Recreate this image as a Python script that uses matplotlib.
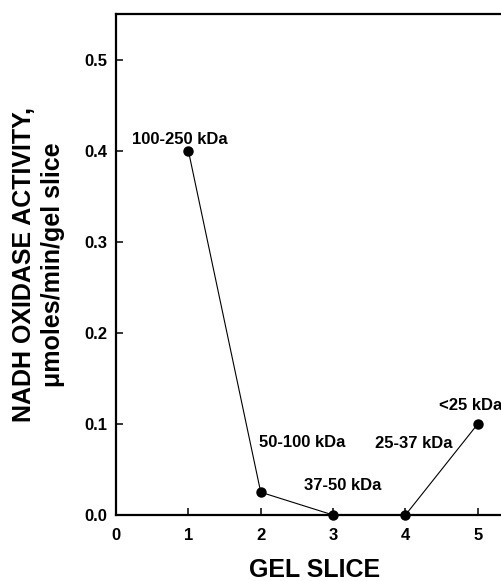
import matplotlib.pyplot as plt
import numpy as np

plt.rcParams['font.family'] = ['Liberation Sans', 'DejaVu Sans']
plt.rcParams['font.weight'] = 'bold'

# NADH oxidase activity per gel slice
gel_slice = [1, 2, 3, 4, 5]
activity = [0.40, 0.025, 0.0, 0.0, 0.10]
mw_labels = ["100-250 kDa", "50-100 kDa", "37-50 kDa", "25-37 kDa", "<25 kDa"]
# label offsets from each point, in points
label_offsets = [(-5.8, 5), (29.5, 32.4), (7.2, 18), (6, 48.2), (-5, 10)]

fig = plt.figure(figsize=(5.02, 5.81), dpi=100)
W, H = 502, 581
ax = fig.add_axes([116 / W, 66 / H, (514 - 116) / W, (515 - 14) / H])

ax.plot(gel_slice, activity, color='black', lw=0.8, marker='o', ms=6.5,
        mfc='black', mec='black', clip_on=False, zorder=3)

for x, y, lab, off in zip(gel_slice, activity, mw_labels, label_offsets):
    ax.annotate(lab, (x, y), xytext=off, textcoords='offset points',
                ha='center', va='baseline', fontsize=12, fontweight='bold',
                annotation_clip=False)

ax.set_xlim(0, 5.5)
ax.set_ylim(0, 0.55)
ax.set_xticks([0, 1, 2, 3, 4, 5])
ax.set_yticks([0.0, 0.1, 0.2, 0.3, 0.4, 0.5])
ax.set_yticklabels(['0.0', '0.1', '0.2', '0.3', '0.4', '0.5'])

for s in ['left', 'bottom', 'top']:
    ax.spines[s].set_linewidth(1.6)
ax.spines['right'].set_visible(False)

ax.tick_params(axis='both', direction='in', length=5, width=1.1,
               labelsize=12)
ax.tick_params(axis='x', pad=9)
ax.tick_params(axis='y', pad=6)
for lbl in ax.get_xticklabels() + ax.get_yticklabels():
    lbl.set_fontweight('bold')

ax.set_xlabel('GEL SLICE', fontsize=18, fontweight='bold', labelpad=11)
ax.set_ylabel('NADH OXIDASE ACTIVITY,\n\u03bcmoles/min/gel slice',
              fontsize=18, fontweight='bold', linespacing=1.3, labelpad=14)

fig.savefig('out.png', dpi=100)
